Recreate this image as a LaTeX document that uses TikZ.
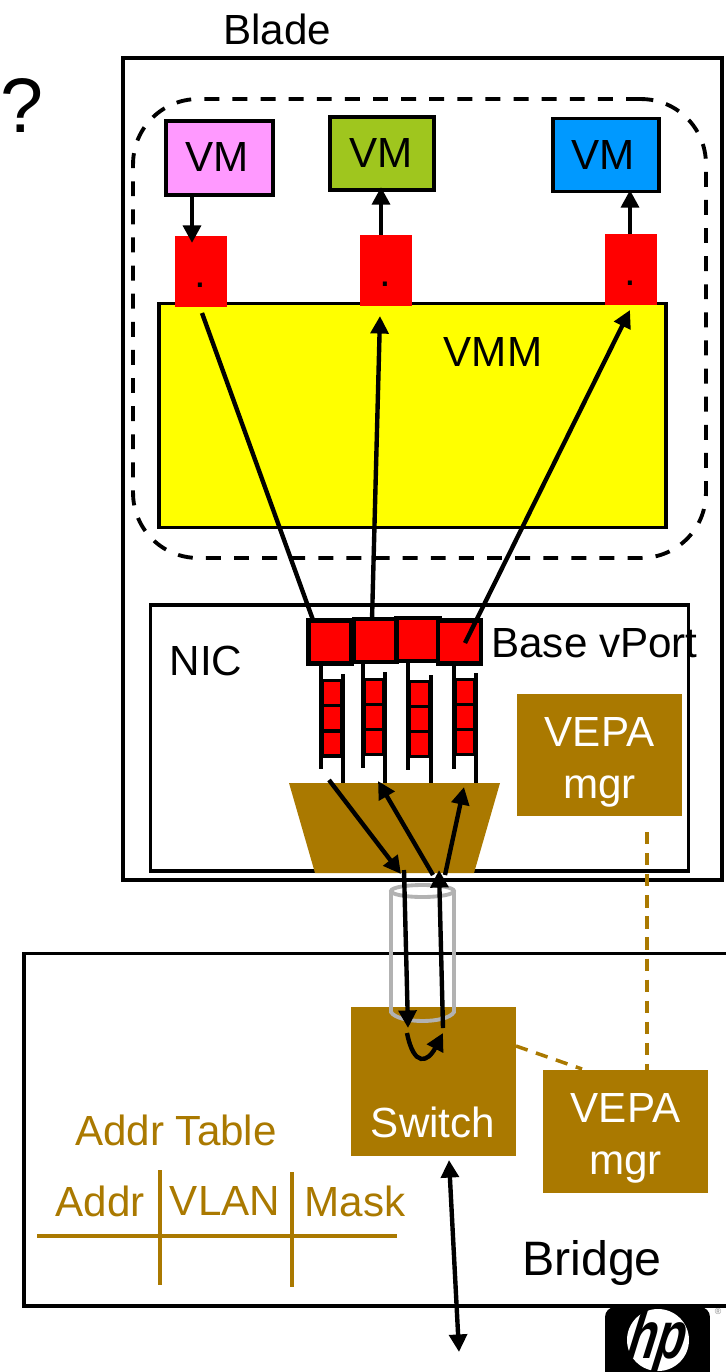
\documentclass[tikz,border=0pt]{standalone}
\usepackage{fontspec}
\setmainfont{Liberation Sans}
\usetikzlibrary{arrows.meta}
\definecolor{vmpink}{HTML}{FF99FF}
\definecolor{vmgreen}{HTML}{9FC61E}
\definecolor{vmblue}{HTML}{0099FF}
\definecolor{vmmyellow}{HTML}{FFFF00}
\definecolor{portred}{HTML}{FF0000}
\definecolor{brownfill}{HTML}{AA7900}
\definecolor{cylgray}{HTML}{B2B2B2}

\begin{document}
\begin{tikzpicture}[x=0.02cm,y=-0.02cm,
        >={Triangle[length=10pt,width=10pt]},
        every node/.style={font=\fontsize{24}{29.6}\selectfont},
        box/.style={draw,line width=2.2pt,inner sep=0pt},
        redbox/.style={fill=portred,inner sep=0pt,minimum width=1.04cm,minimum height=1.42cm},
        portbox/.style={draw,fill=portred,line width=2.4pt,inner sep=0pt,minimum width=0.86cm,minimum height=0.86cm},
        cellbox/.style={draw,fill=portred,line width=2.1pt,inner sep=0pt,minimum width=0.4cm,minimum height=0.5cm},
        brownbox/.style={fill=brownfill,inner sep=0pt,minimum width=3.3cm},
        whitetext/.style={text=white,align=center,inner sep=0pt},
        brownlabel/.style={text=brownfill,inner sep=0pt},
        rail/.style={line width=2.1pt},
        wire/.style={line width=2.5pt},
        brownline/.style={draw=brownfill,line width=2pt},
        cyl/.style={draw=cylgray,line width=2.2pt}]
        \useasboundingbox (0,0) rectangle (725,1372);

        \node [draw=none,fill=black,rounded corners=0.2cm,inner sep=0pt,minimum width=2.1cm,minimum height=1.8cm] (logo) at (657.5,1352) {};
        \fill [white] (658,1340) circle [x radius=31,y radius=31];
        \node [inner sep=0pt,font=\fontsize{38}{38}\selectfont\bfseries\itshape,transform shape,xscale=0.7,xslant=0.25] (hp) at (658,1341) {hp};
        \node [inner sep=0pt,text=black!50,font=\fontsize{5}{6}\selectfont] (reg) at (718,1311) {®};

        \node [box,minimum width=11.98cm,minimum height=16.44cm] (blade) at (422.5,469) {};
        \node [inner sep=0pt] (bladetext) at (277,29) {Blade};
        \node [inner sep=0pt,font=\fontsize{44}{50}\selectfont] (query) at (21.5,106) {?};
        \node [draw,dashed,line width=2.2pt,dash pattern=on 8.5pt off 7.5pt,rounded corners=1.3cm,inner sep=0pt,minimum width=11.46cm,minimum height=9.18cm] (host) at (419.5,328.5) {};

        \node [box,fill=vmmyellow,minimum width=10.14cm,minimum height=4.48cm] (vmm) at (412.5,415.5) {};
        \node [inner sep=0pt] (vmmtext) at (493,352) {VMM};

        \node [box,fill=vmpink,minimum width=2.14cm,minimum height=1.48cm] (vma) at (219.5,158) {};
        \node [box,fill=vmgreen,minimum width=2.08cm,minimum height=1.46cm] (vmb) at (382,153.5) {};
        \node [box,fill=vmblue,minimum width=2.12cm,minimum height=1.46cm] (vmc) at (606,155) {};
        \node [inner sep=0pt] (vmatext) at (217,157) {VM};
        \node [inner sep=0pt] (vmbtext) at (381,153) {VM};
        \node [inner sep=0pt] (vmctext) at (603,155) {VM};

        \node [redbox] (reda) at (201,271.5) {};
        \node [redbox] (redb) at (386,270.5) {};
        \node [redbox] (redc) at (631,269.5) {};
        \node [inner sep=0pt] (dota) at (200,285) {.};
        \node [inner sep=0pt] (dotb) at (385,284) {.};
        \node [inner sep=0pt] (dotc) at (630,283) {.};

        \node [box,minimum width=10.76cm,minimum height=5.32cm] (nic) at (419.5,738) {};
        \node [inner sep=0pt] (nictext) at (206,661) {NIC};
        \node [inner sep=0pt] (basetext) at (594.5,643) {Base vPort};

        \draw [rail] (321,661)--(321,769);
        \draw [rail] (343,674)--(343,783);
        \draw [rail] (363,660)--(363,768);
        \draw [rail] (385,672)--(385,783);
        \draw [rail] (408,662)--(408,770);
        \draw [rail] (431,675)--(431,783);
        \draw [rail] (454,660)--(454,769);
        \draw [rail] (476,673)--(476,783);

        \node [cellbox] (qa1) at (332,693) {};
        \node [cellbox] (qa2) at (332,718) {};
        \node [cellbox] (qa3) at (332,743.5) {};
        \node [cellbox] (qb1) at (374,692) {};
        \node [cellbox] (qb2) at (374,717) {};
        \node [cellbox] (qb3) at (374,742) {};
        \node [cellbox] (qc1) at (419.5,694) {};
        \node [cellbox] (qc2) at (419.5,719) {};
        \node [cellbox] (qc3) at (419.5,744) {};
        \node [cellbox] (qd1) at (465,692) {};
        \node [cellbox] (qd2) at (465,717) {};
        \node [cellbox] (qd3) at (465,742) {};

        \node [portbox] (porta) at (330,642) {};
        \node [portbox] (portb) at (375.5,640.5) {};
        \node [portbox] (portc) at (418,639.5) {};
        \node [portbox] (portd) at (459.5,642) {};

        \fill [brownfill] (289,783)--(500,783)--(474,873)--(315,873)--cycle;

        \node [brownbox,minimum height=2.44cm] (vepaa) at (599.5,755) {};
        \node [whitetext] (vepaatext) at (599.5,762) {VEPA\\mgr};

        \node [box,minimum width=14.33cm,minimum height=7.05cm] (bridge) at (381.75,1129.75) {};
        \node [inner sep=0pt,font=\fontsize{27.5}{30}\selectfont] (bridgetext) at (592,1263) {Bridge};
        \node [fill=brownfill,inner sep=0pt,minimum width=3.3cm,minimum height=2.98cm] (switch) at (433.5,1081.5) {};
        \node [whitetext] (switchtext) at (433,1122) {Switch};
        \node [brownbox,minimum height=2.46cm] (vepab) at (625.5,1131.5) {};
        \node [whitetext] (vepabtext) at (625.5,1138) {VEPA\\mgr};

        \node [brownlabel] (tabletitle) at (176,1130) {Addr Table};
        \node [brownlabel] (coladdr) at (100,1201) {Addr};
        \node [brownlabel] (colvlan) at (225,1201) {VLAN};
        \node [brownlabel] (colmask) at (355,1201) {Mask};
        \draw [brownline] (37,1236)--(397,1236);
        \draw [brownline] (160,1170)--(160,1285);
        \draw [brownline] (292,1172)--(292,1287);

        \draw [cyl] (422.5,891) ellipse [x radius=31.5,y radius=6];
        \draw [cyl] (391,891)--(391,1012) .. controls (398,1024) and (447,1024) .. (454,1012)--(454,891);

        \coordinate (dasha) at (647,832);
        \coordinate (dashb) at (647,1070);
        \coordinate (dashc) at (516,1046);
        \coordinate (dashd) at (582,1069);
        \draw [brownline,dashed,dash pattern=on 7pt off 5pt] (dasha)--(dashb);
        \draw [brownline,dashed,dash pattern=on 7pt off 5pt] (dashc)--(dashd);

        \coordinate (vmaout) at (192,196);
        \coordinate (vmain) at (192,243);
        \coordinate (vmbin) at (381,187);
        \coordinate (redbout) at (381,235);
        \coordinate (vmcin) at (630,190);
        \coordinate (redcout) at (630,234);
        \draw [wire,->] (vmaout)--(vmain);
        \draw [wire,->] (redbout)--(vmbin);
        \draw [wire,->] (redcout)--(vmcin);

        \coordinate (linka) at (202,313);
        \coordinate (linkb) at (313,620);
        \coordinate (linkc) at (372,620);
        \coordinate (linkd) at (380,316);
        \coordinate (linke) at (465,643);
        \coordinate (linkf) at (630,310);
        \draw [wire] (linka)--(linkb);
        \draw [wire,->] (linkc)--(linkd);
        \draw [wire,->] (linke)--(linkf);

        \coordinate (fana) at (329,780);
        \coordinate (fanb) at (401,874);
        \coordinate (fanc) at (433,875);
        \coordinate (fand) at (378,781);
        \coordinate (fane) at (445,875);
        \coordinate (fanf) at (464,787);
        \draw [wire,->] (fana)--(fanb);
        \draw [wire,->] (fanc)--(fand);
        \draw [wire,->] (fane)--(fanf);

        \coordinate (pipea) at (404,870);
        \coordinate (pipeb) at (408,1028);
        \coordinate (pipec) at (443,1028);
        \coordinate (piped) at (439,870);
        \draw [wire,->] (pipea)--(pipeb);
        \draw [wire,->] (pipec)--(piped);

        \coordinate (turna) at (407,1033);
        \coordinate (turnb) at (443,1033);
        \draw [wire,->] (turna) .. controls (414,1068) and (428,1062) .. (turnb);

        \coordinate (upa) at (449,1160);
        \coordinate (upb) at (459,1352);
        \draw [wire,<->] (upa)--(upb);
    \end{tikzpicture}
\end{document}
